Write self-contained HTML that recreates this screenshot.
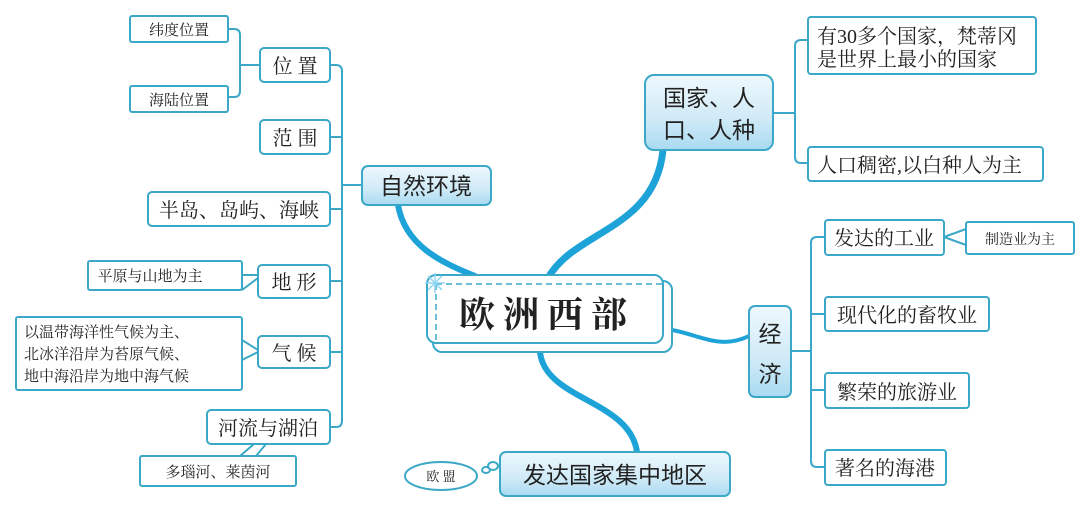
<!DOCTYPE html>
<html><head><meta charset="utf-8"><style>
html,body{margin:0;padding:0;background:#fff;}
svg{display:block;}
text{font-family:"Liberation Serif","Noto Serif CJK SC",serif;fill:#222;}
.s{font-family:"Liberation Sans","Noto Sans CJK SC",sans-serif;}
</style></head><body>
<svg width="1080" height="508" viewBox="0 0 1080 508" xmlns="http://www.w3.org/2000/svg">
<defs>
<linearGradient id="g" x1="0" y1="0" x2="0" y2="1">
<stop offset="0" stop-color="#eef8fd"/><stop offset="0.6" stop-color="#cfeaf7"/><stop offset="1" stop-color="#a9daf1"/>
</linearGradient>
</defs>
<g fill="none" stroke="#1ea3d9" stroke-linecap="round">
<path d="M398,205 C405,245 440,262 475,276" stroke-width="6"/>
<path d="M663,150 C655,230 575,230 548,278" stroke-width="7"/>
<path d="M672,330 C700,335 720,350 749,336" stroke-width="4"/>
<path d="M540,352 C545,400 630,400 637,452" stroke-width="6"/>
</g>
<g fill="none" stroke="#3ba8c8" stroke-width="2">
<path d="M228,29 h6 q6,0 6,6 v56 q0,6 -6,6 h-6"/>
<path d="M240,65 h20"/>
<path d="M330,65 h6 q6,0 6,6 v350 q0,6 -6,6 h-6"/>
<path d="M330,137 h12 M330,209 h12 M330,281 h12 M330,352 h12 M342,185 h20"/>
<path d="M773,113 h22 M808,40 h-7 q-6,0 -6,6 v111 q0,6 6,6 h7"/>
<path d="M791,351 h20 M825,237 h-8 q-6,0 -6,6 v218 q0,6 6,6 h8 M811,314 h14 M811,390 h14"/>
<path d="M944,237 l22,-8 M944,237 l22,8"/>
<path d="M242,275 h16 M242,290 l16,-12 M242,340 l16,10 M242,360 l16,-8"/>
<path d="M240,456 l14,-12 M256,456 l10,-12"/>
</g>
<g fill="#fff" stroke="#3ba8c8" stroke-width="2">
<rect x="130" y="16" width="98" height="26" rx="2"/>
<rect x="130" y="86" width="98" height="26" rx="2"/>
<rect x="260" y="48" width="70" height="34" rx="4"/>
<rect x="260" y="120" width="70" height="34" rx="4"/>
<rect x="148" y="192" width="182" height="34" rx="4"/>
<rect x="88" y="261" width="154" height="29" rx="2"/>
<rect x="258" y="265" width="72" height="33" rx="4"/>
<rect x="16" y="317" width="226" height="73" rx="2"/>
<rect x="258" y="336" width="72" height="32" rx="4"/>
<rect x="207" y="410" width="123" height="34" rx="4"/>
<rect x="140" y="456" width="156" height="30" rx="2"/>
<ellipse cx="441" cy="476" rx="36" ry="14"/>
<ellipse cx="486" cy="470" rx="4" ry="3"/>
<ellipse cx="493" cy="466" rx="5" ry="4"/>
<rect x="808" y="17" width="228" height="57" rx="3"/>
<rect x="808" y="147" width="235" height="34" rx="3"/>
<rect x="825" y="220" width="119" height="35" rx="3"/>
<rect x="966" y="222" width="108" height="32" rx="2"/>
<rect x="825" y="297" width="164" height="34" rx="3"/>
<rect x="825" y="373" width="144" height="35" rx="3"/>
<rect x="825" y="450" width="121" height="35" rx="3"/>
<rect x="433" y="281" width="239" height="71" rx="9"/>
<rect x="427" y="275" width="236" height="68" rx="9"/>
</g>
<path d="M436,284 H663 M436,284 V340" stroke="#3ba8c8" stroke-width="1.5" stroke-dasharray="6,4" fill="none"/>
<g stroke="#8fd6f0" stroke-width="1.5"><path d="M428,276 l14,14 M442,276 l-14,14 M435,273 v20 M425,283 h20"/></g>
<g fill="url(#g)" stroke="#3ba8c8" stroke-width="2">
<rect x="362" y="166" width="129" height="39" rx="6"/>
<rect x="645" y="75" width="128" height="75" rx="9"/>
<rect x="749" y="306" width="42" height="91" rx="6"/>
<rect x="500" y="452" width="230" height="44" rx="6"/>
</g>
<g font-size="15">
<text x="179" y="35" text-anchor="middle">纬度位置</text>
<text x="179" y="105" text-anchor="middle">海陆位置</text>
<text x="150" y="281" text-anchor="middle">平原与山地为主</text>
<text x="24" y="337">以温带海洋性气候为主、</text>
<text x="24" y="359">北冰洋沿岸为苔原气候、</text>
<text x="24" y="381">地中海沿岸为地中海气候</text>
<text x="218" y="477" text-anchor="middle">多瑙河、莱茵河</text>
<text x="441" y="481" text-anchor="middle" font-size="13">欧 盟</text>
<text x="1020" y="244" text-anchor="middle" font-size="14">制造业为主</text>
</g>
<g font-size="20">
<text x="295" y="73" text-anchor="middle">位 置</text>
<text x="295" y="145" text-anchor="middle">范 围</text>
<text x="239" y="217" text-anchor="middle">半岛、岛屿、海峡</text>
<text x="294" y="289" text-anchor="middle">地 形</text>
<text x="294" y="360" text-anchor="middle">气 候</text>
<text x="268" y="435" text-anchor="middle">河流与湖泊</text>
<text x="817" y="43">有30多个国家，梵蒂冈</text>
<text x="817" y="66">是世界上最小的国家</text>
<text x="817" y="172">人口稠密,以白种人为主</text>
<text x="884" y="245" text-anchor="middle">发达的工业</text>
<text x="907" y="322" text-anchor="middle">现代化的畜牧业</text>
<text x="897" y="399" text-anchor="middle">繁荣的旅游业</text>
<text x="885" y="475" text-anchor="middle">著名的海港</text>
</g>
<g font-size="23" class="s">
<text class="s" x="426" y="194" text-anchor="middle">自然环境</text>
<text class="s" x="709" y="106" text-anchor="middle">国家、人</text>
<text class="s" x="709" y="138" text-anchor="middle">口、人种</text>
<text class="s" x="770" y="342" text-anchor="middle">经</text>
<text class="s" x="770" y="382" text-anchor="middle">济</text>
<text class="s" x="615" y="483" text-anchor="middle">发达国家集中地区</text>
</g>
<text x="547" y="327" text-anchor="middle" font-size="36" font-weight="bold" letter-spacing="8">欧洲西部</text>
</svg>
</body></html>
